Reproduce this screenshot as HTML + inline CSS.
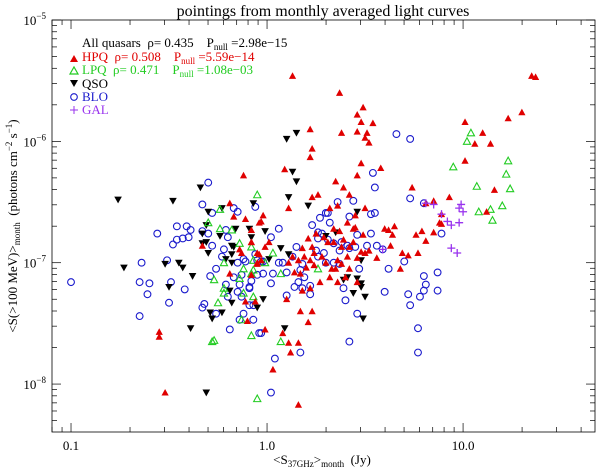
<!DOCTYPE html>
<html><head><meta charset="utf-8">
<style>
html,body{margin:0;padding:0;background:#fff;}
svg{display:block;font-family:"Liberation Serif",serif;}
svg text{white-space:pre;}
</style></head>
<body>
<svg id="chart" width="600" height="470" viewBox="0 0 600 470" xmlns="http://www.w3.org/2000/svg" xml:space="preserve">
<rect width="600" height="470" fill="#fff"/>
<text x="323" y="16" font-size="16" text-anchor="middle">pointings from monthly averaged light curves</text>
<g id="axes"></g>
<g id="marks"></g>
<g id="legend">
  <text x="82" y="47" font-size="13" fill="#000">All quasars  ρ= 0.435    P<tspan font-size="9" dy="3">null</tspan><tspan dy="-3"> =2.98e−15</tspan></text>
  <polygon points="70,62 74,55 78,62" fill="#e00000"/>
  <text x="82" y="61" font-size="13" fill="#e00000">HPQ  ρ= 0.508    P<tspan font-size="9" dy="3">null</tspan><tspan dy="-3"> =5.59e−14</tspan></text>
  <polygon points="70,74 74,67 78,74" fill="none" stroke="#22cc22" stroke-width="1.2"/>
  <text x="82" y="74" font-size="13" fill="#22cc22">LPQ  ρ= 0.471    P<tspan font-size="9" dy="3">null</tspan><tspan dy="-3"> =1.08e−03</tspan></text>
  <polygon points="70,80 78,80 74,87" fill="#000"/>
  <text x="82" y="88" font-size="13" fill="#000">QSO</text>
  <circle cx="74" cy="97" r="3.3" fill="none" stroke="#1a1acc" stroke-width="1.1"/>
  <text x="82" y="101" font-size="13" fill="#1a1acc">BLO</text>
  <path d="M70,110 h8 M74,106 v8" stroke="#9933ee" stroke-width="1"/>
  <text x="82" y="114" font-size="13" fill="#9933ee">GAL</text>
</g>
<text x="322" y="464" font-size="13" text-anchor="middle">&lt;S<tspan font-size="9" dy="3">37GHz</tspan><tspan dy="-3">&gt;</tspan><tspan font-size="9" dy="3">month</tspan><tspan dy="-3">  (Jy)</tspan></text>
<text transform="translate(17,226) rotate(-90)" font-size="13" text-anchor="middle">&lt;S(&gt;100 MeV)&gt;<tspan font-size="9" dy="3">month</tspan><tspan dy="-3">  (photons cm</tspan><tspan font-size="9" dy="-5">−2</tspan><tspan dy="5"> s</tspan><tspan font-size="9" dy="-5">−1</tspan><tspan dy="5">)</tspan></text>
</svg>
<script>
// log10 of S37GHz (Jy) and log10 of gamma-ray flux (photons cm^-2 s^-1)
const hpqLogS = [-0.12,-0.19,-0.17,-0.11,-0.04,-0.08,-0.33,-0.14,-0.13,-0.04,-0.05,-0.08,-0.19,-0.11,-0.06,-0.10,-0.55,-0.55,
0.13,0.37,0.49,0.46,0.48,0.54,0.22,0.38,0.46,0.51,0.50,0.52,0.23,0.22,0.09,0.48,0.46,0.58,0.35,0.39,0.74,0.93,0.26,0.23,0.42,0.11,-0.02,-0.03,0.32,0.36,0.50,0.45,0.41,0.44,0.34,0.37,0.45,0.60,0.65,0.62,0.64,0.76,0.79,0.85,0.81,0.88,0.89,0.49,0.44,0.39,0.34,0.29,0.25,0.21,0.23,0.18,0.19,0.16,0.11,0.13,0.01,-0.01,-0.05,-0.08,-0.08,-0.03,-0.05,0.24,0.28,0.30,0.22,0.20,0.17,0.14,0.33,0.35,0.38,0.42,0.46,0.50,0.52,0.56,0.63,0.69,0.68,0.72,0.77,0.48,0.41,0.36,0.24,0.40,0.46,0.32,0.36,0.27,0.18,0.22,0.10,0.17,0.23,0.21,-0.01,0.08,0.11,0.16,0.12,0.03,0.42,0.38,0.31,
1.35,1.37,1.30,1.23,1.01,1.10,1.06,1.14,1.01,0.85,0.81,1.16,1.12,0.89,-0.52,0.16];
const hpqLogF = [-6.28,-6.51,-6.62,-6.64,-6.67,-6.83,-6.86,-6.89,-6.92,-6.93,-7.00,-7.10,-7.09,-7.32,-7.32,-7.48,-7.57,-7.61,
-5.46,-5.60,-5.72,-5.78,-5.84,-5.85,-5.90,-5.93,-5.92,-5.93,-5.97,-6.01,-6.06,-6.13,-6.23,-6.18,-6.28,-6.22,-6.33,-6.38,-6.38,-6.46,-6.44,-6.46,-6.44,-6.55,-6.61,-6.66,-6.55,-6.53,-6.55,-6.61,-6.67,-6.72,-6.72,-6.74,-6.71,-6.72,-6.70,-6.73,-6.77,-6.77,-6.74,-6.75,-6.82,-6.67,-6.60,-6.77,-6.83,-6.81,-6.83,-6.79,-6.76,-6.80,-6.87,-6.88,-6.95,-6.98,-7.00,-6.95,-6.83,-6.87,-6.92,-6.83,-6.73,-6.98,-7.01,-6.92,-6.95,-7.00,-6.98,-7.04,-7.09,-7.08,-7.05,-7.05,-7.01,-7.05,-6.96,-6.92,-6.90,-6.96,-6.86,-6.92,-7.05,-6.94,-6.92,-6.91,-6.95,-6.98,-7.02,-7.12,-7.16,-7.12,-7.16,-7.16,-7.23,-7.21,-7.30,-7.40,-7.40,-7.49,-7.55,-7.58,-7.66,-7.66,-7.74,-7.88,-6.87,-6.87,-6.83,
-5.46,-5.47,-5.76,-5.81,-5.84,-5.93,-6.02,-6.02,-6.16,-6.49,-6.51,-6.40,-6.58,-6.68,-8.07,-8.17];

const lpqLogS = [-0.05,-0.24,-0.30,-0.24,-0.18,-0.14,-0.08,-0.22,-0.07,-0.27,-0.08,-0.14,-0.12,-0.22,-0.22,-0.12,-0.07,-0.25,-0.13,-0.27,-0.08,
0.26,0.03,-0.01,-0.07,0.07,0.07,1.04,1.02,1.23,0.95,1.22,1.07,1.24,1.08,1.14,1.20,1.15,-0.05,-0.28];
const lpqLogF = [-6.44,-6.56,-6.67,-6.72,-6.73,-6.84,-6.87,-7.00,-6.98,-7.14,-7.09,-7.13,-7.05,-7.25,-7.21,-7.25,-7.28,-7.33,-7.47,-7.64,-7.60,
-7.05,-6.92,-7.00,-7.06,-7.09,-7.65,-5.93,-6.00,-6.16,-6.21,-6.27,-6.37,-6.39,-6.58,-6.56,-6.53,-6.65,-8.12,-7.65];

const qsoLogS = [-0.34,-0.76,-0.48,-0.30,-0.23,-0.07,-0.31,-0.33,-0.24,-0.16,-0.09,-0.08,-0.31,-0.33,-0.30,-0.18,-0.17,-0.18,-0.21,-0.18,-0.73,-0.52,-0.45,-0.43,-0.38,-0.50,-0.19,-0.18,-0.29,-0.23,-0.28,-0.39,-0.05,
0.15,0.10,0.13,0.15,0.11,0.21,0.46,-0.01,0.35,0.30,0.07,0.11,0.01,0.48,0.41,0.39,0.44,0.46,0.48,0.48,0.50,-0.02,0.49,0.09,-0.31];
const qsoLogF = [-6.38,-6.48,-6.49,-6.58,-6.55,-6.51,-6.69,-6.76,-6.78,-6.72,-6.72,-6.79,-6.83,-6.84,-6.92,-6.86,-6.87,-6.93,-6.97,-7.00,-7.04,-7.01,-7.00,-7.04,-7.11,-7.20,-7.23,-7.33,-7.41,-7.41,-7.46,-7.54,-7.37,
-5.93,-5.98,-6.25,-6.33,-6.46,-6.53,-6.58,-6.74,-6.75,-6.78,-6.88,-6.93,-6.97,-6.98,-7.12,-7.14,-7.25,-7.13,-7.17,-7.20,-7.28,-7.30,-7.46,-7.54,-8.07];

const bloLogS = [-0.30,-0.33,-0.28,-0.17,-0.15,-0.06,-0.56,-0.46,-0.41,-0.39,-0.40,-0.43,-0.46,-0.48,-0.33,-0.30,-0.28,-0.21,-0.20,-0.22,-0.23,-0.15,-0.12,-0.11,-0.26,-0.29,-0.13,-0.17,-0.21,-0.14,-0.09,-0.15,-0.20,-0.13,-0.09,-0.51,-0.64,-1.00,-0.65,-0.60,-0.49,-0.42,-0.61,-0.50,-0.32,-0.33,-0.26,-0.65,-0.12,-0.14,-0.07,-0.19,-0.04,-0.05,
0.66,0.73,0.54,0.55,0.73,0.80,0.44,0.36,0.30,0.31,0.42,0.53,0.55,0.23,0.32,0.27,0.28,0.26,0.26,0.31,0.46,0.53,0.56,0.59,0.38,0.34,0.41,0.42,0.45,0.51,0.15,0.13,0.18,0.08,0.06,0.02,0.06,-0.06,-0.03,0.03,0.10,-0.02,0.02,0.17,0.19,0.16,0.14,0.18,0.22,0.10,0.22,0.62,0.70,0.34,0.37,0.30,0.29,0.25,0.26,0.37,0.47,0.39,0.40,0.60,0.72,0.73,0.78,0.80,0.81,0.80,0.87,0.87,0.89,0.46,0.77,0.77,0.42,0.17,0.04,-0.03,-0.07,-0.09,-0.08,-0.02,-0.05,0.02];
const bloLogF = [-6.34,-6.52,-6.59,-6.55,-6.58,-6.54,-6.76,-6.70,-6.70,-6.73,-6.79,-6.80,-6.81,-6.85,-6.74,-6.76,-6.86,-6.73,-6.79,-6.89,-6.95,-7.00,-6.97,-6.99,-7.05,-7.11,-7.10,-7.12,-7.18,-7.18,-7.20,-7.24,-7.28,-7.28,-7.35,-6.98,-7.00,-7.16,-7.16,-7.17,-7.16,-7.22,-7.26,-7.33,-7.34,-7.37,-7.42,-7.44,-7.42,-7.47,-7.47,-7.55,-7.58,-7.10,
-5.94,-5.98,-6.26,-6.38,-6.47,-6.51,-6.49,-6.50,-6.59,-6.59,-6.62,-6.60,-6.59,-6.69,-6.67,-6.63,-6.76,-6.75,-6.80,-6.81,-6.77,-6.76,-6.86,-6.89,-6.83,-6.84,-6.86,-6.88,-6.87,-6.86,-6.87,-6.95,-7.01,-7.00,-7.00,-6.79,-6.72,-6.93,-6.99,-7.09,-7.08,-7.09,-7.17,-7.06,-7.12,-7.16,-7.20,-7.21,-7.26,-7.27,-7.19,-7.05,-6.99,-7.00,-7.01,-7.00,-6.92,-6.90,-6.95,-6.90,-7.05,-7.21,-7.31,-7.24,-7.26,-7.35,-7.28,-7.23,-7.18,-7.11,-7.23,-7.08,-6.76,-7.42,-7.54,-7.74,-7.65,-7.74,-7.79,-7.58,-7.35,-7.21,-7.15,-6.99,-6.98,-8.07];

const galLogS = [0.81,0.85,0.89,0.92,0.59,0.99,0.98,1.00,0.94,0.98,0.94,0.97];
const galLogF = [-6.51,-6.52,-6.60,-6.66,-6.89,-6.52,-6.55,-6.58,-6.69,-6.67,-6.88,-6.92];

const xTickValues = [0.1, 1, 10];
const xTickLabels = ["0.1", "1.0", "10.0"];
const yTickExps = [-5, -6, -7, -8];

const L=52,R=595,T=20,B=432;
const xMin=-1.097,xMax=1.673,yMax=-5,yMin=-8.395;
function sx(lv){return L+(lv-xMin)/(xMax-xMin)*(R-L);}
function sy(lv){return T+(yMax-lv)/(yMax-yMin)*(B-T);}
const NS="http://www.w3.org/2000/svg";
function mk(tag,attrs,parent){const e=document.createElementNS(NS,tag);for(const k in attrs)e.setAttribute(k,attrs[k]);parent.appendChild(e);return e;}
const axes=document.getElementById('axes');
const marks=document.getElementById('marks');

const frame=mk('rect',{x:L,y:T,width:R-L,height:B-T,fill:'none',stroke:'#000','stroke-width':0.8},axes);



for(let d=-2;d<=1;d++){
  for(let m=1;m<=9;m++){
    const lv=d+Math.log10(m);
    if(lv<xMin||lv>xMax)continue;
    const X=sx(lv),len=(m===1)?9:5;
    const t1=mk('line',{x1:X,x2:X,y1:B,y2:B-len,stroke:'#000','stroke-width':0.7},axes);
    
    
    const t2=mk('line',{x1:X,x2:X,y1:T,y2:T+len,stroke:'#000','stroke-width':0.7},axes);
    
    
  }
}
xTickValues.forEach((v,i)=>{
  const t=mk('text',{x:sx(Math.log10(v)),y:B+18,'font-size':13,'text-anchor':'middle'},axes);
  t.textContent=xTickLabels[i];
  
  
});
for(let d=-9;d<=-5;d++){
  for(let m=1;m<=9;m++){
    const lv=d+Math.log10(m);
    if(lv<yMin||lv>yMax)continue;
    const Y=sy(lv),len=(m===1)?9:5;
    const t1=mk('line',{x1:L,x2:L+len,y1:Y,y2:Y,stroke:'#000','stroke-width':0.7},axes);
    
    
    const t2=mk('line',{x1:R,x2:R-len,y1:Y,y2:Y,stroke:'#000','stroke-width':0.7},axes);
    
    
  }
}
yTickExps.forEach(e=>{
  const t=mk('text',{x:L-6,y:sy(e)+5,'font-size':13,'text-anchor':'end'},axes);
  
  
  const a=mk('tspan',{},t);a.textContent='10';
  const b=mk('tspan',{'font-size':9,dy:-6},t);b.textContent='−'+Math.abs(e);
});

function drawSeries(xs,ys,kind){
  for(let i=0;i<xs.length;i++){
    const X=sx(xs[i]),Y=sy(ys[i]);let e;
    if(kind==='hpq'){
      e=mk('polygon',{points:`${X-3.6},${Y+3} ${X},${Y-3.6} ${X+3.6},${Y+3}`,fill:'#e00000'},marks);
      
    }else if(kind==='lpq'){
      e=mk('polygon',{points:`${X-3.6},${Y+3} ${X},${Y-3.6} ${X+3.6},${Y+3}`,fill:'none',stroke:'#22cc22','stroke-width':1.1},marks);
      
    }else if(kind==='qso'){
      e=mk('polygon',{points:`${X-3.8},${Y-3} ${X+3.8},${Y-3} ${X},${Y+3.8}`,fill:'#000'},marks);
      
    }else if(kind==='blo'){
      e=mk('circle',{cx:X,cy:Y,r:3.4,fill:'none',stroke:'#1a1acc','stroke-width':1.1},marks);
      
    }else{
      e=mk('path',{d:`M${X-4},${Y} h8 M${X},${Y-4} v8`,stroke:'#9933ee','stroke-width':1.3},marks);
      
    }
    
  }
}
drawSeries(bloLogS,bloLogF,'blo');
drawSeries(qsoLogS,qsoLogF,'qso');
drawSeries(lpqLogS,lpqLogF,'lpq');
drawSeries(hpqLogS,hpqLogF,'hpq');
drawSeries(galLogS,galLogF,'gal');
</script>
</body></html>
